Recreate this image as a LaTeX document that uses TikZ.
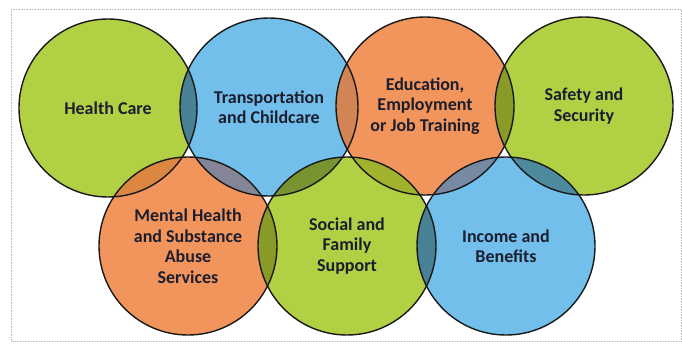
\documentclass[tikz,border=0pt]{standalone}
\usepackage{fontspec}
\setmainfont{Carlito}
\usepackage{xcolor}
\usepackage{tikz}

\definecolor{ringgreen}{RGB}{166,201,42}
\definecolor{ringblue}{RGB}{94,182,232}
\definecolor{ringorange}{RGB}{240,134,70}
\definecolor{ringtext}{RGB}{28,30,46}
\definecolor{lensgray}{RGB}{122,134,158}

\begin{document}
\begin{tikzpicture}[x=1pt, y=1pt,
  ring/.style = {circle, minimum size=178pt, inner sep=0pt, align=center,
                 fill opacity=0.88, text opacity=1, text=ringtext,
                 font=\fontsize{18}{20.5}\selectfont\bfseries},
  rim/.style  = {draw=black!90, line width=1.4pt}
]
  \useasboundingbox (0,0) rectangle (682,-343);
  \draw[gray!55, densely dotted, line width=0.6pt] (11,-9) rectangle (681,-341);

  % top row
  \node[ring, fill=ringgreen]  (health) at (108,-108) {Health Care};
  \node[ring, fill=ringblue]   (trans)  at (269,-107) {Transportation\\and Childcare};
  \node[ring, fill=ringorange] (edu)    at (425,-106) {Education,\\Employment\\or Job Training};
  \node[ring, fill=ringgreen]  (safety) at (584,-106) {Safety and\\Security};
  % bottom row
  \node[ring, fill=ringorange] (mental) at (188,-246) {Mental Health\\and Substance\\Abuse\\Services};
  \node[ring, fill=ringgreen]  (social) at (347,-246) {Social and\\Family\\Support};
  \node[ring, fill=ringblue]   (income) at (506,-246) {Income and\\Benefits};

  % darker overlaps
  \foreach \a/\b/\c/\o in {health/trans/black/0.3, trans/edu/black/0.06,
                           edu/safety/black/0.2, health/mental/black/0.05,
                           trans/mental/lensgray/0.9, trans/social/black/0.25,
                           edu/social/black/0.08, edu/income/lensgray/0.9,
                           safety/income/black/0.25, mental/social/black/0.2,
                           social/income/black/0.3}{
    \begin{scope}
      \clip (\a) circle[radius=89];
      \fill[\c, opacity=\o] (\b) circle[radius=89];
    \end{scope}
  }

  \foreach \n in {health, trans, edu, safety, mental, social, income}
    \draw[rim] (\n) circle[radius=89];
\end{tikzpicture}
\end{document}
